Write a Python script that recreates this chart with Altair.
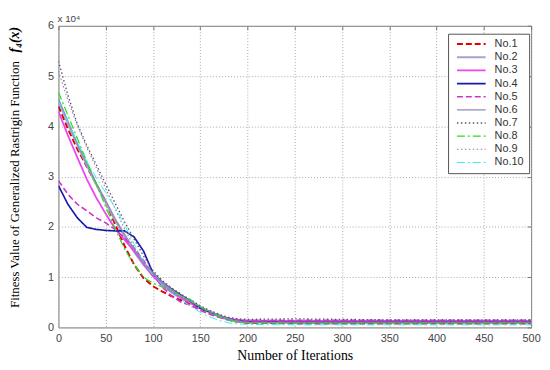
import altair as alt
import pandas as pd

iterations = [0, 10, 20, 30, 40, 50, 60, 70, 80, 90, 100, 110, 120, 130, 140,
              150, 160, 170, 180, 190, 200, 250, 300, 350, 400, 450, 500]

series_names = ["No.1", "No.2", "No.3", "No.4", "No.5", "No.6", "No.7", "No.8", "No.9", "No.10"]

# fitness values in units of 10^4
no1 = [4.40, 3.95, 3.55, 3.20, 2.85, 2.50, 2.05, 1.62, 1.25, 0.98, 0.82, 0.71, 0.62, 0.54, 0.47,
       0.38, 0.29, 0.21, 0.15, 0.11, 0.09, 0.08, 0.08, 0.08, 0.08, 0.08, 0.08]
no2 = [4.50, 4.05, 3.62, 3.22, 2.84, 2.48, 2.12, 1.80, 1.50, 1.24, 1.02, 0.86, 0.72, 0.61, 0.51,
       0.40, 0.30, 0.22, 0.15, 0.11, 0.10, 0.10, 0.10, 0.10, 0.10, 0.10, 0.10]
no3 = [4.30, 3.82, 3.38, 2.95, 2.58, 2.26, 1.96, 1.74, 1.52, 1.27, 1.02, 0.83, 0.69, 0.58, 0.48,
       0.38, 0.30, 0.23, 0.18, 0.15, 0.14, 0.13, 0.13, 0.13, 0.13, 0.13, 0.13]
no4 = [2.82, 2.45, 2.18, 1.99, 1.95, 1.93, 1.92, 1.92, 1.80, 1.52, 1.08, 0.90, 0.76, 0.64, 0.52,
       0.38, 0.31, 0.24, 0.17, 0.13, 0.11, 0.10, 0.10, 0.10, 0.10, 0.10, 0.10]
no5 = [2.92, 2.65, 2.45, 2.32, 2.18, 2.08, 1.95, 1.78, 1.58, 1.33, 1.06, 0.80, 0.62, 0.50, 0.44,
       0.34, 0.26, 0.20, 0.16, 0.14, 0.13, 0.14, 0.14, 0.14, 0.14, 0.14, 0.14]
no6 = [4.55, 4.10, 3.66, 3.26, 2.87, 2.52, 2.16, 1.85, 1.56, 1.30, 1.08, 0.90, 0.75, 0.62, 0.52,
       0.41, 0.32, 0.24, 0.17, 0.12, 0.10, 0.09, 0.09, 0.09, 0.09, 0.09, 0.09]
no7 = [5.30, 4.62, 4.05, 3.62, 3.24, 2.85, 2.47, 2.10, 1.76, 1.42, 1.13, 0.93, 0.78, 0.66, 0.55,
       0.43, 0.34, 0.26, 0.20, 0.17, 0.16, 0.17, 0.16, 0.15, 0.15, 0.15, 0.15]
no8 = [4.68, 4.22, 3.76, 3.30, 2.86, 2.40, 1.96, 1.56, 1.25, 1.00, 0.88, 0.80, 0.72, 0.63, 0.55,
       0.41, 0.30, 0.22, 0.15, 0.11, 0.09, 0.09, 0.09, 0.09, 0.09, 0.09, 0.09]
no9 = [5.10, 4.52, 4.02, 3.58, 3.18, 2.76, 2.36, 1.96, 1.60, 1.30, 1.05, 0.86, 0.71, 0.59, 0.48,
       0.38, 0.28, 0.20, 0.14, 0.11, 0.10, 0.10, 0.10, 0.10, 0.10, 0.10, 0.10]
no10 = [4.50, 4.08, 3.68, 3.30, 2.98, 2.68, 2.38, 2.04, 1.66, 1.30, 1.04, 0.84, 0.68, 0.55, 0.42,
        0.30, 0.21, 0.14, 0.09, 0.07, 0.06, 0.05, 0.05, 0.05, 0.05, 0.05, 0.05]

all_series = [no1, no2, no3, no4, no5, no6, no7, no8, no9, no10]

colors = ["#e00000", "#a4a4cc", "#ee44ee", "#1a1aaa", "#cc33cc",
          "#8c8cb4", "#555566", "#22dd22", "#9977aa", "#33eeee"]
dashes = [[6, 3], [1, 0], [1, 0], [1, 0], [6, 3],
          [1, 0], [1.5, 2.5], [8, 3, 2, 3], [1.5, 2.5], [8, 3, 2, 3]]
widths = [2, 1, 2, 2, 2, 1, 1.5, 2, 1, 2]

x_ticks = [0, 50, 100, 150, 200, 250, 300, 350, 400, 450, 500]
y_ticks = [0, 1, 2, 3, 4, 5, 6]

rows = []
for name, vals in zip(series_names, all_series):
    for it, v in zip(iterations, vals):
        rows.append({"series": name, "iter": it, "val": v})
df = pd.DataFrame(rows)

x_scale = alt.Scale(domain=[0, 500], nice=False, zero=False)
y_scale = alt.Scale(domain=[0, 6], nice=False)

lines = alt.Chart(df).mark_line(clip=True).encode(
    x=alt.X("iter:Q", scale=x_scale,
            axis=alt.Axis(values=x_ticks, title="Number of Iterations",
                          titleFont="Liberation Serif", titleFontSize=14,
                          titleFontWeight="normal", titleColor="#000",
                          titlePadding=5)),
    y=alt.Y("val:Q", scale=y_scale,
            axis=alt.Axis(values=y_ticks, title="Fitness Value of Generalized Rastrigin Function",
                          titleFont="Liberation Serif", titleFontSize=13,
                          titleFontWeight="normal", titleColor="#000",
                          titleAngle=270, titleX=-44, titleY=160,
                          titleAlign="center", titleBaseline="middle")),
    color=alt.Color("series:N", scale=alt.Scale(domain=series_names, range=colors),
                    legend=alt.Legend(title=None)),
    strokeDash=alt.StrokeDash("series:N", scale=alt.Scale(domain=series_names, range=dashes),
                              legend=alt.Legend(title=None)),
    strokeWidth=alt.StrokeWidth("series:N", scale=alt.Scale(domain=series_names, range=widths),
                                legend=alt.Legend(title=None)),
    order=alt.Order("iter:Q"),
)

# invisible layer carrying the mirrored (inward) tick marks on top and right
mirror = alt.Chart(df).mark_point(opacity=0).encode(
    x=alt.X("iter:Q", scale=x_scale,
            axis=alt.Axis(orient="top", values=x_ticks, labels=False, title=None,
                          grid=False, domain=False, ticks=True, tickSize=4,
                          tickColor="#777", offset=-4)),
    y=alt.Y("val:Q", scale=y_scale,
            axis=alt.Axis(orient="right", values=y_ticks, labels=False, title=None,
                          grid=False, domain=False, ticks=True, tickSize=4,
                          tickColor="#777", offset=-4)),
)

fx = alt.Chart(pd.DataFrame({"t": ["f\u2084(x)"]})).mark_text(
    font="Liberation Serif", fontSize=14, fontStyle="italic", fontWeight="bold",
    angle=270, align="center", baseline="middle", color="#000"
).encode(x=alt.value(-44), y=alt.value(14), text="t:N")

mult = alt.Chart(pd.DataFrame({"t": ["x 10\u2074"]})).mark_text(
    font="Liberation Sans", fontSize=10, align="left", baseline="alphabetic", color="#444"
).encode(x=alt.value(-1), y=alt.value(-4), text="t:N")

chart = alt.layer(lines, mirror, fx, mult).resolve_axis(
    x="independent", y="independent"
).properties(
    width=478, height=305,
    autosize=alt.AutoSizeParams(type="none"),
    padding={"left": 51, "top": 16, "right": 11, "bottom": 36},
).configure_view(
    stroke="#777", strokeWidth=1
).configure_axis(
    domain=False, ticks=False, labelFlush=False,
    grid=True, gridColor="#a8a8a8", gridDash=[1, 2], gridWidth=1,
    labelFont="Liberation Sans", labelFontSize=11, labelColor="#444",
    labelPadding=5,
).configure_legend(
    orient="none", legendX=394, legendY=8,
    symbolType="stroke", symbolSize=841, clipHeight=11,
    labelFont="Liberation Sans", labelFontSize=11, labelColor="#333",
    labelOffset=8, symbolOffset=3,
    rowPadding=1.3, padding=5,
    strokeColor="#555", fillColor="#ffffff",
)

chart.save("out.html", embed_options={"renderer": "svg", "actions": False})
